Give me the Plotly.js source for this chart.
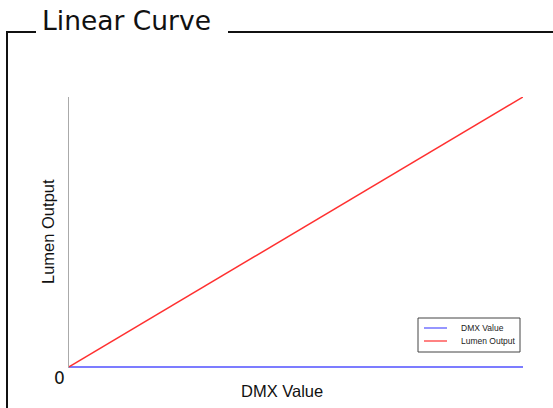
<!DOCTYPE html>
<html><head><meta charset="utf-8">
<script src="https://cdn.plot.ly/plotly-3.0.1.min.js"></script>
<style>html,body{margin:0;padding:0;background:#fff}#c{width:553px;height:408px}</style>
</head><body><div id="c"></div>
<script>
const dmxInput = [0, 255];
const dmxValue = [0, 0];
const lumenOutput = [0, 100];
const seriesNames = ["DMX Value", "Lumen Output"];
const seriesColors = ['#5050ff', '#ff3030'];
const titleText = "Linear Curve";

const W = 553, H = 408, L = 69, R = 30, T = 97, B = 40;
const pw = W - L - R, ph = H - T - B;
const px = x => (x - L) / pw;
const py = y => (H - B - y) / ph;
const tfont = "'DejaVu Sans', sans-serif";
const afont = "Arial, 'Liberation Sans', sans-serif";

const traces = [
  {x: dmxInput, y: dmxValue, name: seriesNames[0], mode: 'lines', line: {color: seriesColors[0], width: 1.5}},
  {x: dmxInput, y: lumenOutput, name: seriesNames[1], mode: 'lines', line: {color: seriesColors[1], width: 1.5}}
];

const shapes = [
  {type: 'line', xref: 'paper', yref: 'paper', x0: px(6), x1: px(36), y0: py(32), y1: py(32), line: {color: '#111', width: 2}},
  {type: 'line', xref: 'paper', yref: 'paper', x0: px(228), x1: px(556), y0: py(32), y1: py(32), line: {color: '#111', width: 2}},
  {type: 'line', xref: 'paper', yref: 'paper', x0: px(7), x1: px(7), y0: py(31), y1: py(412), line: {color: '#111', width: 2}},
  {type: 'rect', xref: 'paper', yref: 'paper', x0: px(418), x1: px(520), y0: py(318), y1: py(352), line: {color: '#444', width: 1}, fillcolor: '#fff'}
];
const annotations = [
  {xref: 'paper', yref: 'paper', x: px(40), y: py(38), xanchor: 'left', yanchor: 'bottom', text: titleText,
   showarrow: false, font: {size: 26.5, family: tfont, color: '#111'}},
  {xref: 'paper', yref: 'paper', x: px(67), y: py(366), xanchor: 'right', yanchor: 'top', text: '0',
   showarrow: false, font: {size: 17, family: tfont, color: '#111'}},
  {xref: 'paper', yref: 'paper', x: px(282), y: py(391), xanchor: 'center', yanchor: 'middle', text: 'DMX Value',
   showarrow: false, font: {size: 16.5, family: afont, color: '#111'}},
  {xref: 'paper', yref: 'paper', x: px(48), y: py(232), xanchor: 'center', yanchor: 'middle', text: 'Lumen Output',
   showarrow: false, textangle: -90, font: {size: 16.5, family: afont, color: '#111'}}
];
const legendRows = [328, 341];
seriesNames.forEach((n, i) => {
  shapes.push({type: 'line', xref: 'paper', yref: 'paper', x0: px(424), x1: px(447), y0: py(legendRows[i]), y1: py(legendRows[i]),
               line: {color: seriesColors[i], width: 1.2}});
  annotations.push({xref: 'paper', yref: 'paper', x: px(459), y: py(legendRows[i]), xanchor: 'left', yanchor: 'middle', text: n,
                    showarrow: false, font: {size: 8.5, family: afont, color: '#222'}});
});

const layout = {
  width: W, height: H,
  margin: {l: L, r: R, t: T, b: B},
  paper_bgcolor: '#fff', plot_bgcolor: '#fff',
  font: {family: afont, color: '#111'},
  showlegend: false,
  xaxis: {range: [0, 255], showgrid: false, zeroline: false, showline: false, showticklabels: false, ticks: ''},
  yaxis: {range: [-0.4, 100], showgrid: false, zeroline: false, showline: true, linecolor: '#aaa', linewidth: 1.5,
          showticklabels: false, ticks: ''},
  annotations, shapes
};
Plotly.newPlot('c', traces, layout, {displayModeBar: false, staticPlot: true});
</script></body></html>
